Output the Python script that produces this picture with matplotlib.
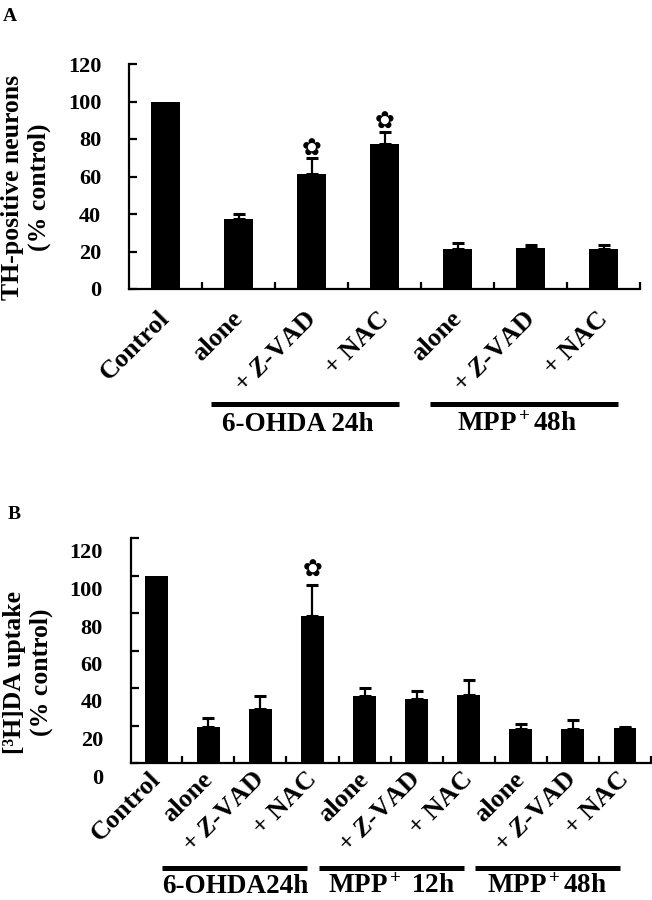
import matplotlib
matplotlib.use('Agg')
import matplotlib.pyplot as plt
import matplotlib.transforms as mtransforms
import numpy as np

plt.rcParams['font.family'] = ['Liberation Serif', 'DejaVu Serif']
plt.rcParams['font.weight'] = 'bold'
plt.rcParams['mathtext.fontset'] = 'custom'
plt.rcParams['mathtext.rm'] = 'Liberation Serif:bold'
plt.rcParams['mathtext.it'] = 'Liberation Serif:italic:bold'
plt.rcParams['mathtext.bf'] = 'Liberation Serif:bold'

# panel A data
a_labels = ['Control', 'alone', r'+ $\mathit{Z}$-VAD', '+ NAC',
            'alone', r'+ $\mathit{Z}$-VAD', '+ NAC']
a_vals = [100, 37.6, 61.2, 77.5, 21.1, 22.0, 21.1]
a_err = [0, 2.3, 8.6, 6.2, 3.2, 1.4, 2.3]
a_sig = [False, False, True, True, False, False, False]
a_groups = ['6-OHDA 24h', r'MPP$^+$48h']
a_group_idx = [(1, 3), (4, 6)]

# panel B data
b_labels = ['Control'] + ['alone', r'+ $\mathit{Z}$-VAD', '+ NAC'] * 3
b_vals = [100, 19.3, 28.6, 78.2, 35.8, 34.2, 36.5, 18.4, 17.9, 18.8]
b_err = [0, 4.5, 7.2, 16.5, 4.3, 4.1, 7.6, 2.5, 5.3, 0.5]
b_sig = [False, False, False, True, False, False, False, False, False, False]
b_groups = ['6-OHDA24h', r'MPP$^+$ 12h', r'MPP$^+$48h']
b_group_idx = [(1, 3), (4, 6), (7, 9)]

yticks = [0, 20, 40, 60, 80, 100, 120]

fig = plt.figure(figsize=(6.52, 9.0), dpi=100)


def panel(ax, labels, vals, errs, sig, groups, gidx, width, xlim,
          lab_dx, lab_y, line_y, text_y, lo, hi, text_dx, star_off):
    x = np.arange(len(vals))
    ax.bar(x, vals, width, color='black')
    e = np.array(errs)
    m = e > 0
    ax.errorbar(x[m], np.array(vals)[m], yerr=[np.zeros(m.sum()), e[m]],
                fmt='none', ecolor='black', elinewidth=1.6, capsize=4.5,
                capthick=2.2)
    for i in range(len(vals)):
        if sig[i]:
            ax.annotate('\u273f', (x[i], vals[i] + errs[i]), xytext=(0, star_off),
                        textcoords='offset points', ha='center', va='center',
                        fontsize=17, family='DejaVu Sans')
    ax.set_xlim(*xlim)
    ax.set_ylim(0, 120)
    ax.set_yticks(yticks)
    ax.set_xticks([])
    ax.set_xticks(np.arange(len(vals)) + 0.5, minor=True)
    for s in ['top', 'right']:
        ax.spines[s].set_visible(False)
    for s in ['left', 'bottom']:
        ax.spines[s].set_linewidth(1.6)
    ax.tick_params(axis='y', direction='in', length=6, width=1.6, pad=20,
                   labelsize=16)
    ax.tick_params(axis='x', which='minor', direction='in', length=5, width=1.6)
    tr = ax.get_xaxis_transform()
    for i, lab in enumerate(labels):
        ax.text(i + lab_dx, lab_y, lab, transform=tr, rotation=45,
                rotation_mode='anchor', ha='right', va='top', fontsize=19)
    for name, (g0, g1) in zip(groups, gidx):
        ax.plot([g0 + lo, g1 + hi], [line_y, line_y], transform=tr,
                clip_on=False, color='black', lw=3.6, solid_capstyle='butt')
        ax.text((g0 + lo + g1 + hi) / 2 + text_dx, text_y, name, transform=tr,
                ha='center', va='center', fontsize=19.5)


axA = fig.add_axes([129 / 652, 1 - 289 / 900, (640 - 129) / 652, 225 / 900])
panel(axA, a_labels, a_vals, a_err, a_sig, a_groups, a_group_idx,
      0.41, (-0.5, 6.5), -0.1, -0.08, -0.511, -0.604, -0.38, 0.2, -0.1, 7)

axB = fig.add_axes([130.7 / 652, 1 - 763 / 900, (651 - 130.7) / 652, 225 / 900])
panel(axB, b_labels, b_vals, b_err, b_sig, b_groups, b_group_idx,
      0.44, (-0.49, 9.48), -0.15, -0.02, -0.467, -0.55, -0.88, -0.1, 0.0, 11)
for lab in axB.get_yticklabels():
    lab.set_transform(lab.get_transform() +
                      mtransforms.ScaledTranslation(0, -0.13, fig.dpi_scale_trans))

fig.text(26 / 652, 1 - 187 / 900, 'TH-positive neurons\n(% control)',
         rotation=90, ha='center', va='center', fontsize=18.5,
         multialignment='center', linespacing=1.15)
fig.text(28 / 652, 1 - 672 / 900, '[\u00b3H]DA uptake\n(% control)',
         rotation=90, ha='center', va='center', fontsize=18.5,
         multialignment='center', linespacing=1.15)

fig.text(3 / 652, 1 - 8 / 900, 'A', ha='left', va='top', fontsize=14)
fig.text(8 / 652, 1 - 506 / 900, 'B', ha='left', va='top', fontsize=14)

fig.savefig('out.png', dpi=100)
